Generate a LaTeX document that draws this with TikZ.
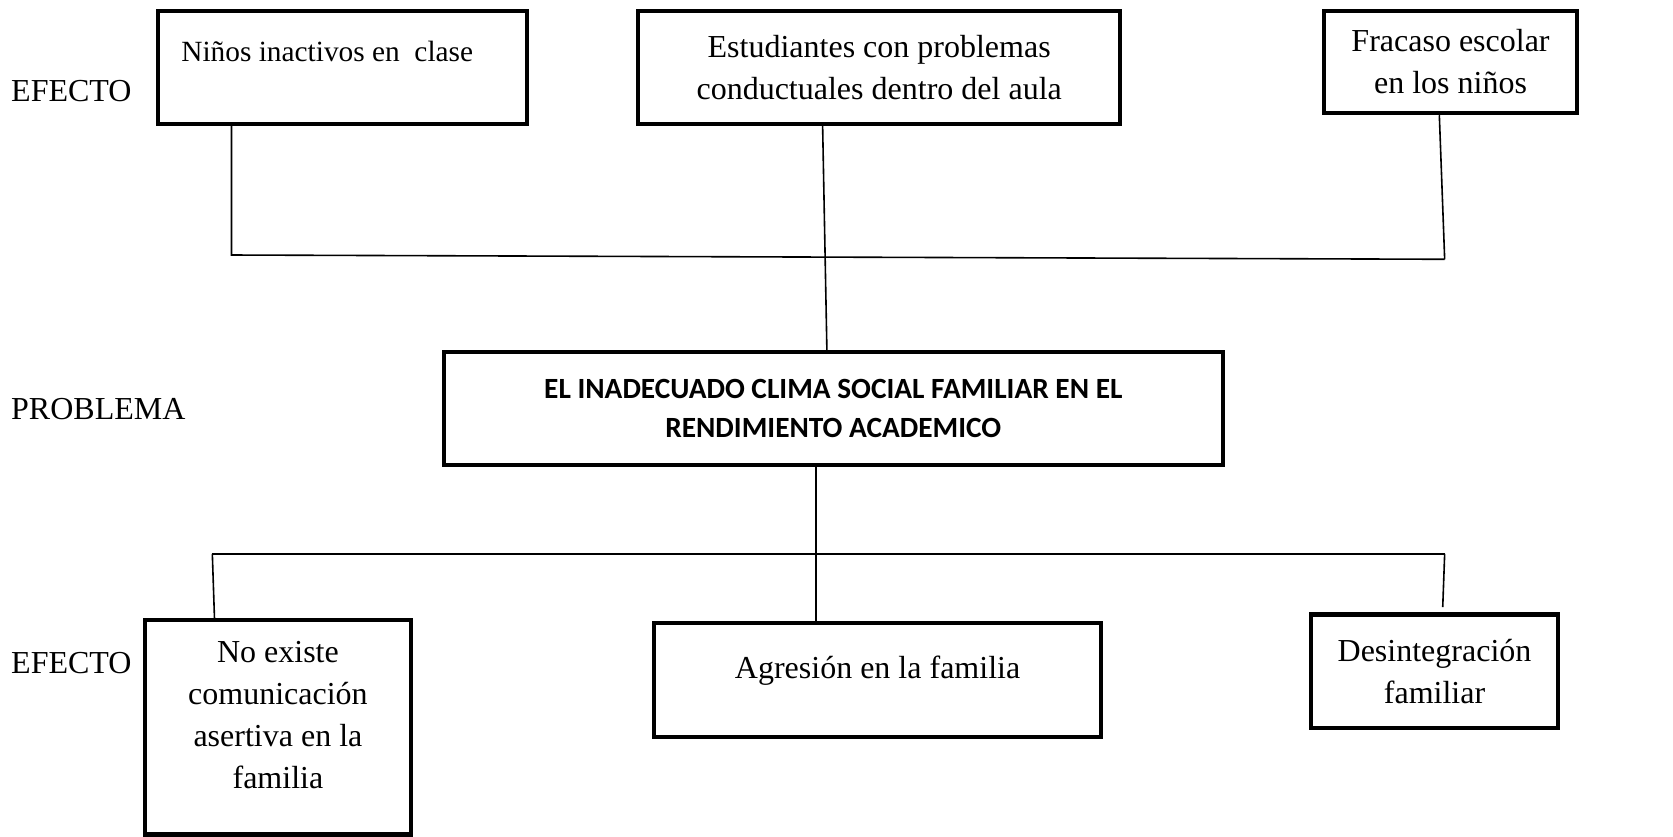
\documentclass[tikz,border=0pt]{standalone}
\usepackage{fontspec}
\setmainfont{Liberation Serif}
\newfontfamily\titlefont{Carlito}
\usepackage{tikz}
\usetikzlibrary{positioning}

\begin{document}
\begin{tikzpicture}[box/.style={draw, rectangle, line width=1.6pt, inner sep=0pt, align=center, font=\fontsize{12}{15.8}\selectfont}, lbl/.style={anchor=west, inner sep=0pt, font=\fontsize{12}{14}\selectfont}, link/.style={line width=0.6pt}]
\useasboundingbox (0pt, 0pt) rectangle (627.2pt, -313.6pt);
% side labels
\draw (4.0pt, -34.0pt)node[lbl](ef1){EFECTO};
\draw (4.0pt, -153.2pt)node[lbl](pr){PROBLEMA};
\draw (4.0pt, -248.4pt)node[lbl](ef2){EFECTO};
% upper row
\draw (128.4pt, -25.2pt)node[draw, rectangle, line width=1.6pt, inner sep=0pt, font=\fontsize{11}{14}\selectfont, minimum width=138.4pt, minimum height=42.4pt, text depth=12pt](e1){\makebox[120.8pt][l]{Niños inactivos en\ \ clase}};
\draw (329.6pt, -25.2pt)node[box, minimum width=180.8pt, minimum height=42.4pt](e2){Estudiantes con problemas\\conductuales dentro del aula};
\draw (543.8pt, -23.2pt)node[box, minimum width=94.8pt, minimum height=38.4pt](e3){Fracaso escolar\\en los niños};
% problem
\draw (312.4pt, -153.2pt)node[box, minimum width=292.0pt, minimum height=42.4pt, font=\titlefont\bfseries\fontsize{11}{14.4}\selectfont](prob){EL INADECUADO CLIMA SOCIAL FAMILIAR EN EL\\RENDIMIENTO ACADEMICO};
% lower row
\draw (104.2pt, -272.6pt)node[box, minimum width=99.6pt, minimum height=80.4pt, text depth=9pt](c1){No existe\\comunicación\\asertiva en la\\familia};
\draw (329.0pt, -255.0pt)node[box, minimum width=167.6pt, minimum height=42.8pt, text depth=10pt](c2){Agresión en la familia};
\draw (537.8pt, -251.6pt)node[box, minimum width=92.4pt, minimum height=42.4pt](c3){Desintegración\\familiar};
% junctions
\coordinate (jl) at (86.8pt, -95.6pt);
\coordinate (jr) at (541.6pt, -97.2pt);
\coordinate (kl) at (79.6pt, -207.6pt);
\coordinate (kr) at (541.6pt, -207.6pt);
% connectors
\draw[link] (jl |- e1.south) -- (jl) -- (jr);
\draw[link] ([xshift=-4.2pt]e3.south) -- (jr);
\draw[link] ([xshift=-21.2pt]e2.south) -- ([xshift=-2.4pt]prob.north);
\draw[link] ([xshift=-6.4pt]prob.south) -- ([xshift=-23.0pt]c2.north);
\draw[link] (kl) -- (kr);
\draw[link] (kl) -- ([xshift=-23.8pt]c1.north);
\draw[link, shorten >=2pt] (kr) -- ([xshift=3.0pt]c3.north);
\end{tikzpicture}
\end{document}
